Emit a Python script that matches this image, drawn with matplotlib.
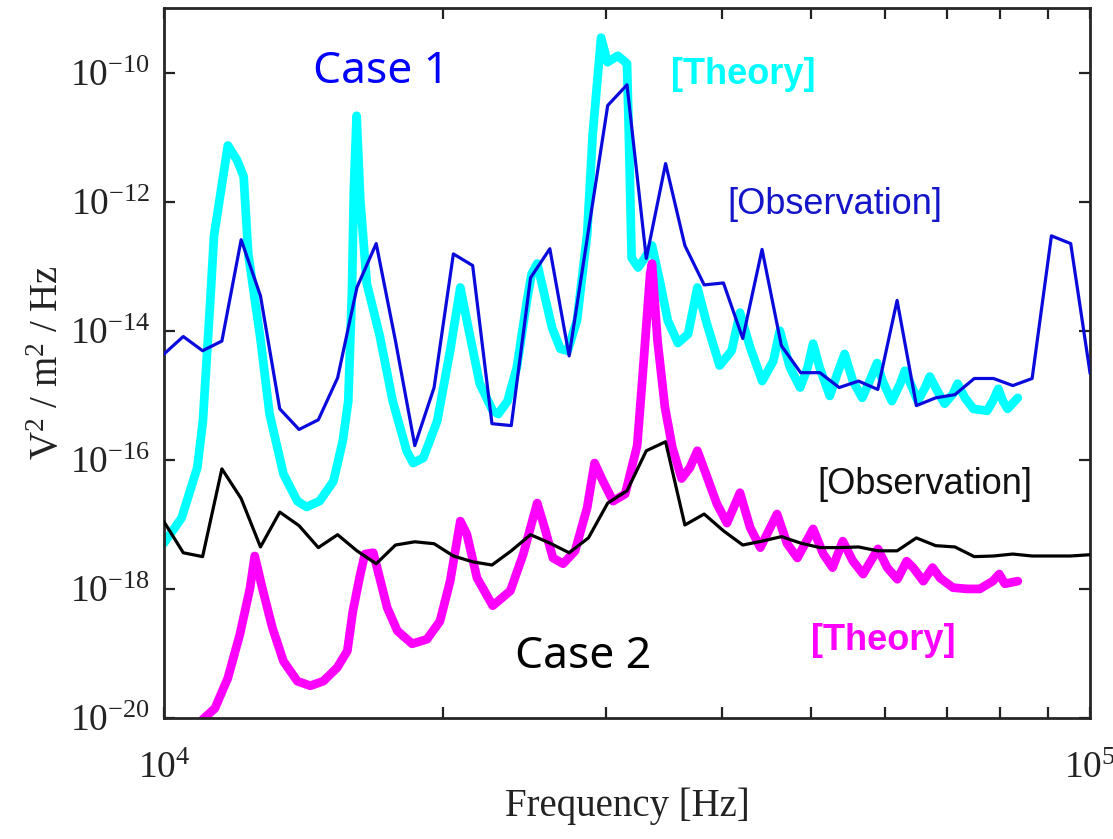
import numpy as np
import matplotlib
matplotlib.use("Agg")
import matplotlib.pyplot as plt
from matplotlib.ticker import NullLocator, FixedLocator, NullFormatter

# ---------------- data ----------------
# Observation grid (Hz)
obs_freq = [10000, 10491, 11007, 11548, 12115, 12711, 13335, 13990, 14678, 15399,
            16156, 16950, 17783, 18657, 19574, 20535, 21544, 22603, 23714, 24879,
            26102, 27384, 28730, 30142, 31623, 33177, 34807, 36517, 38312, 40194,
            42170, 44242, 46416, 48697, 51090, 53601, 56234, 58997, 61897, 64938,
            68129, 71477, 74989, 78674, 82540, 86596, 90852, 95316, 100000]

# Case 1 observation, log10 PSD
case1_obs_log = [-14.36, -14.09, -14.31, -14.16, -12.59, -13.46, -15.21, -15.53, -15.38, -14.73,
                 -13.33, -12.65, -14.16, -15.78, -14.88, -12.81, -12.99, -15.44, -15.47, -13.18,
                 -12.73, -14.39, -12.45, -10.51, -10.19, -12.88, -11.41, -12.68, -13.29, -13.26,
                 -14.12, -12.74, -14.23, -14.65, -14.65, -14.88, -14.78, -14.91, -13.53, -15.16,
                 -15.04, -14.99, -14.74, -14.74, -14.85, -14.74, -12.53, -12.65, -14.65]

# Case 2 observation, log10 PSD
case2_obs_log = [-16.96, -17.44, -17.50, -16.14, -16.60, -17.35, -16.81, -17.02, -17.36, -17.16,
                 -17.41, -17.61, -17.32, -17.27, -17.30, -17.49, -17.58, -17.63, -17.41, -17.16,
                 -17.29, -17.44, -17.21, -16.67, -16.48, -15.86, -15.72, -17.01, -16.84, -17.10,
                 -17.32, -17.26, -17.19, -17.29, -17.36, -17.36, -17.35, -17.41, -17.41, -17.21,
                 -17.33, -17.35, -17.50, -17.49, -17.46, -17.49, -17.49, -17.49, -17.47]

# Case 1 theory: log10 frequency, log10 PSD
case1_th_logf = [4.000, 4.019, 4.036, 4.042, 4.050, 4.054, 4.069, 4.079, 4.086, 4.091,
                 4.104, 4.114, 4.129, 4.144, 4.154, 4.168, 4.183, 4.193, 4.199, 4.203,
                 4.205, 4.208, 4.212, 4.219, 4.233, 4.247, 4.262, 4.269, 4.280, 4.295,
                 4.309, 4.320, 4.330, 4.341, 4.355, 4.361, 4.371, 4.381, 4.392, 4.397,
                 4.403, 4.409, 4.419, 4.428, 4.436, 4.446, 4.457, 4.463, 4.472, 4.479,
                 4.490, 4.500, 4.502, 4.505, 4.512, 4.519, 4.527, 4.536, 4.544, 4.555,
                 4.566, 4.576, 4.586, 4.600, 4.613, 4.622, 4.633, 4.646, 4.658, 4.665,
                 4.676, 4.687, 4.695, 4.701, 4.708, 4.719, 4.727, 4.735, 4.744, 4.754,
                 4.762, 4.770, 4.776, 4.786, 4.795, 4.800, 4.808, 4.814, 4.822, 4.827,
                 4.835, 4.843, 4.852, 4.857, 4.865, 4.874, 4.889, 4.895, 4.901, 4.906,
                 4.911, 4.922]
case1_th_log = [-17.29, -16.90, -16.12, -15.40, -13.53, -12.53, -11.13, -11.36, -11.61, -12.81,
                -14.11, -15.29, -16.22, -16.64, -16.73, -16.64, -16.33, -15.71, -15.09, -13.38,
                -11.83, -10.67, -11.98, -13.27, -14.08, -15.09, -15.86, -16.05, -15.97, -15.40,
                -14.31, -13.33, -14.05, -14.82, -15.24, -15.29, -15.09, -14.57, -13.53, -13.12,
                -12.96, -13.33, -13.95, -14.28, -14.31, -13.84, -12.50, -10.95, -9.46, -9.84,
                -9.74, -9.86, -10.95, -12.87, -13.02, -12.88, -12.68, -13.27, -13.84, -14.19,
                -14.05, -13.33, -13.88, -14.54, -14.31, -13.72, -14.26, -14.78, -14.47, -14.00,
                -14.57, -14.88, -14.57, -14.20, -14.57, -15.01, -14.67, -14.36, -14.78, -15.04,
                -14.78, -14.50, -14.78, -15.09, -14.82, -14.62, -14.88, -15.09, -14.88, -14.71,
                -14.93, -15.13, -14.98, -14.82, -15.04, -15.21, -15.24, -15.09, -14.90, -15.09,
                -15.21, -15.04]

# Case 2 theory: log10 frequency, log10 PSD
case2_th_logf = [4.039, 4.042, 4.055, 4.069, 4.082, 4.093, 4.098, 4.106, 4.117, 4.129,
                 4.144, 4.158, 4.172, 4.187, 4.198, 4.204, 4.212, 4.217, 4.226, 4.231,
                 4.241, 4.252, 4.268, 4.284, 4.298, 4.309, 4.320, 4.327, 4.338, 4.355,
                 4.374, 4.388, 4.403, 4.411, 4.420, 4.431, 4.444, 4.457, 4.465, 4.474,
                 4.485, 4.498, 4.511, 4.517, 4.525, 4.527, 4.533, 4.541, 4.549, 4.559,
                 4.568, 4.576, 4.584, 4.597, 4.608, 4.622, 4.633, 4.644, 4.662, 4.673,
                 4.684, 4.701, 4.712, 4.722, 4.733, 4.744, 4.755, 4.771, 4.781, 4.792,
                 4.802, 4.809, 4.820, 4.830, 4.838, 4.852, 4.867, 4.881, 4.895, 4.902,
                 4.908, 4.922]
case2_th_log = [-20.12, -20.02, -19.85, -19.38, -18.70, -17.98, -17.49, -17.98, -18.60, -19.12,
                -19.43, -19.50, -19.43, -19.22, -18.96, -18.34, -17.77, -17.46, -17.44, -17.72,
                -18.29, -18.65, -18.85, -18.78, -18.50, -17.88, -16.95, -17.15, -17.83, -18.26,
                -18.03, -17.46, -16.67, -17.05, -17.52, -17.61, -17.41, -16.74, -16.05, -16.33,
                -16.64, -16.53, -15.78, -14.67, -13.12, -12.96, -14.16, -15.19, -15.81, -16.29,
                -16.12, -15.86, -16.17, -16.68, -16.98, -16.51, -17.05, -17.36, -16.84, -17.30,
                -17.52, -17.07, -17.46, -17.67, -17.26, -17.57, -17.77, -17.38, -17.67, -17.85,
                -17.57, -17.67, -17.88, -17.67, -17.83, -17.98, -18.00, -18.00, -17.88, -17.77,
                -17.92, -17.88]

y_tick_exps = [-20, -18, -16, -14, -12, -10]
x_tick_exps = [4, 5]

# ---------------- figure ----------------
plt.rcParams['font.family'] = 'Liberation Serif'
plt.rcParams['mathtext.default'] = 'regular'

W, H = 1113, 839
fig = plt.figure(figsize=(W / 100, H / 100), dpi=100)
ax = fig.add_axes([164 / W, 1 - 718 / H, (1090 - 164) / W, (718 - 8) / H])

ax.plot(10 ** np.array(case1_th_logf), 10 ** np.array(case1_th_log),
        color='#00FFFF', lw=6.3, solid_joinstyle='round', solid_capstyle='round', zorder=2)
ax.plot(10 ** np.array(case2_th_logf), 10 ** np.array(case2_th_log),
        color='#FF00FF', lw=6.3, solid_joinstyle='round', solid_capstyle='round', zorder=2)
ax.plot(obs_freq, 10 ** np.array(case1_obs_log), color='#0A0ADC', lw=2.3, zorder=3)
ax.plot(obs_freq, 10 ** np.array(case2_obs_log), color='black', lw=2.3, zorder=3)

ax.set_xscale('log')
ax.set_yscale('log')
ax.set_xlim(1e4, 1e5)
ax.set_ylim(1e-20, 1e-9)

ax.set_yticks([10.0 ** e for e in y_tick_exps])
ax.set_yticklabels([r'$10^{%d}$' % e for e in y_tick_exps])
ax.yaxis.set_minor_locator(NullLocator())
ax.set_xticks([10.0 ** e for e in x_tick_exps])
ax.set_xticklabels([r'$10^{%d}$' % e for e in x_tick_exps])
ax.xaxis.set_minor_locator(FixedLocator([k * 1e4 for k in range(2, 10)]))
ax.xaxis.set_minor_formatter(NullFormatter())

ax.tick_params(which='both', direction='in', top=True, right=True,
               width=1.6, color='#222222')
ax.tick_params(which='major', length=8, labelsize=27, labelcolor='#222222')
ax.tick_params(which='minor', length=8)
ax.tick_params(axis='x', which='major', pad=24)
ax.tick_params(axis='y', which='major', pad=10)
for s in ax.spines.values():
    s.set_linewidth(2.0)
    s.set_color('#262626')

ax.set_xlabel('Frequency [Hz]', fontsize=28, labelpad=1, color='#222222')
ax.set_ylabel(r'V$^2$ / m$^2$ / Hz', fontsize=28, labelpad=2, color='#222222')

def ftext(x, y, s, **kw):
    fig.text(x / W, 1 - y / H, s, ha='center', va='center', **kw)

ftext(381, 72, 'Case 1', color='#0000FF', fontsize=32, family='Noto Sans')
ftext(583, 657, 'Case 2', color='black', fontsize=32, family='Noto Sans')
ftext(743, 75, '[Theory]', color='#00FFFF', fontsize=26, family='Liberation Sans', weight='bold')
ftext(883, 640, '[Theory]', color='#FF00FF', fontsize=26, family='Liberation Sans', weight='bold')
ftext(835, 205, '[Observation]', color='#1414C8', fontsize=26, family='Liberation Sans')
ftext(925, 484, '[Observation]', color='#111111', fontsize=26, family='Liberation Sans')

fig.savefig('out.png', dpi=100)
